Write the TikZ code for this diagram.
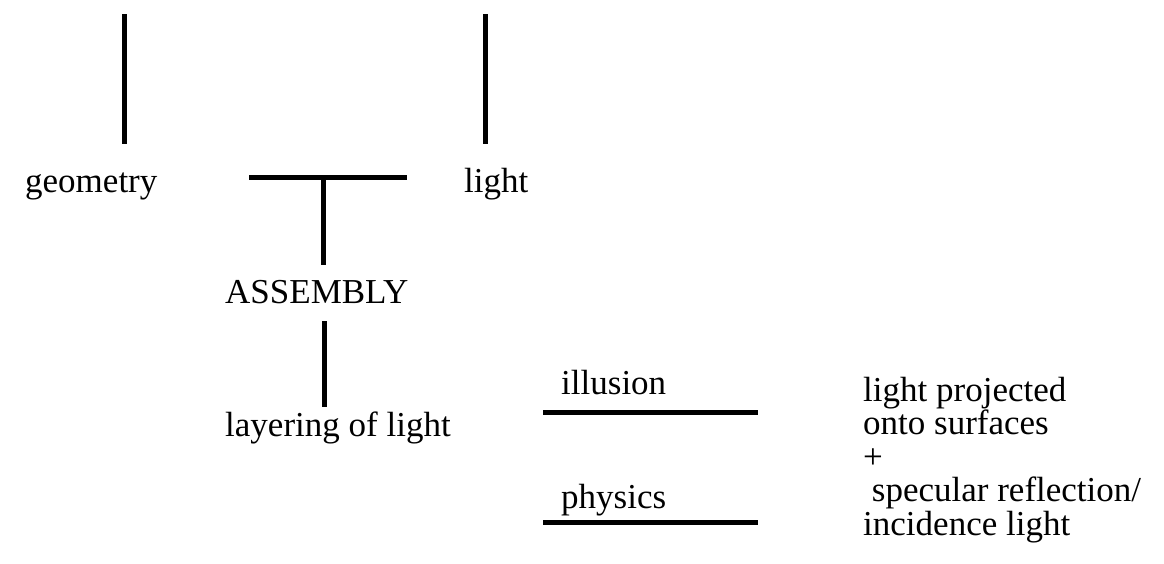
\documentclass[tikz,border=0pt]{standalone}
\usepackage{fontspec}
\setmainfont{Liberation Serif}
\begin{document}
\begin{tikzpicture}[x=1pt,y=-1pt,
  bar/.style={line width=5pt},
  lbl/.style={anchor=base west,inner sep=0pt,font=\fontsize{35}{40}\selectfont}]
\useasboundingbox (0,0) rectangle (1164,563);
% vertical bars at top
\coordinate (g1) at (124,14); \coordinate (g2) at (124,144);
\coordinate (l1) at (485,14); \coordinate (l2) at (485,144);
\draw[bar] (g1) -- (g2);
\draw[bar] (l1) -- (l2);
% labels
\node[lbl] (geometry) at (25,192) {geometry};
\node[lbl] (light) at (464,192) {light};
\node[lbl] (assembly) at (225,303) {ASSEMBLY};
\node[lbl] (layering) at (225,436) {layering of light};
\node[lbl] (illusion) at (561,394) {illusion};
\node[lbl] (physics) at (561,508) {physics};
% T junction
\coordinate (t1) at (249,177); \coordinate (t2) at (407,177);
\coordinate (tm) at (323,177); \coordinate (tb) at (323,265);
\draw[bar] (t1) -- (t2);
\draw[bar] (tm) -- (tb);
% assembly to layering
\coordinate (a1) at (324,321); \coordinate (a2) at (324,407);
\draw[bar] (a1) -- (a2);
% horizontal bars
\coordinate (i1) at (543,412); \coordinate (i2) at (758,412);
\coordinate (p1) at (543,522); \coordinate (p2) at (758,522);
\draw[bar] (i1) -- (i2);
\draw[bar] (p1) -- (p2);
% right text
\node[lbl] (r1) at (863,401) {light projected};
\node[lbl] (r2) at (863,434.5) {onto surfaces};
\node[lbl] (r3) at (863,468) {+};
\node[lbl] (r4) at (863,501.5) {\ specular reflection/};
\node[lbl] (r5) at (863,535) {incidence light};
\end{tikzpicture}
\end{document}
